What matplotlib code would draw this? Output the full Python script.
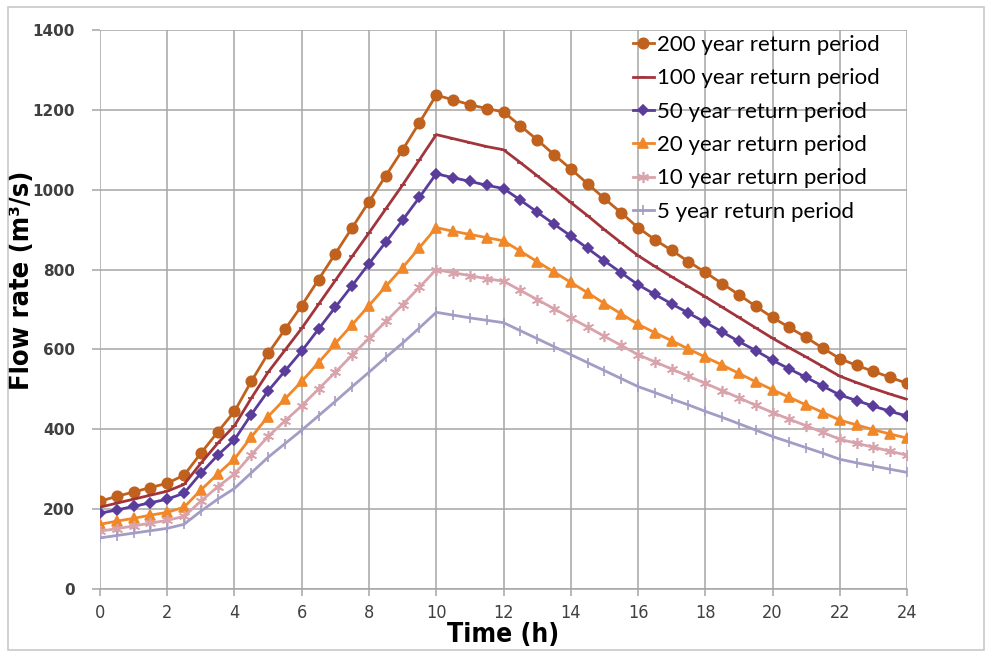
import matplotlib
matplotlib.use("Agg")
import matplotlib.pyplot as plt
from matplotlib.patches import Rectangle

# time axis, half-hour steps
hours = [i * 0.5 for i in range(49)]

q200 = [220, 232, 243, 254, 265, 285, 340, 393, 445, 520, 590, 650, 710, 775, 840, 905, 970,
        1035, 1100, 1168, 1237, 1225, 1213, 1203, 1195, 1160, 1125, 1088, 1052, 1015, 978, 942,
        905, 875, 848, 820, 793, 765, 737, 708, 680, 655, 630, 603, 577, 560, 545, 530, 515]
q100 = [205, 215, 225, 235, 245, 262, 315, 365, 409, 478, 543, 598, 653, 713, 773, 833, 892,
        952, 1012, 1075, 1138, 1128, 1118, 1108, 1100, 1068, 1035, 1002, 968, 935, 900, 867,
        835, 808, 782, 757, 732, 706, 680, 654, 628, 604, 581, 557, 533, 517, 502, 488, 475]
q50 = [190, 198, 207, 216, 225, 240, 290, 335, 374, 437, 496, 546, 596, 651, 706, 760, 815,
       869, 924, 981, 1040, 1030, 1021, 1011, 1003, 974, 944, 914, 884, 853, 822, 792,
       762, 738, 714, 691, 668, 644, 620, 597, 573, 551, 530, 508, 486, 472, 458, 445, 433]
q20 = [162, 170, 177, 185, 192, 205, 248, 288, 326, 381, 432, 476, 520, 567, 615, 662, 710,
       758, 805, 855, 905, 896, 888, 880, 872, 846, 820, 794, 768, 742, 715, 689,
       663, 642, 622, 601, 581, 561, 540, 519, 499, 480, 461, 442, 423, 411, 399, 388, 378]
q10 = [145, 151, 158, 165, 172, 182, 220, 256, 288, 336, 382, 421, 459, 501, 543, 586, 628,
       670, 712, 756, 800, 792, 785, 777, 771, 748, 725, 702, 679, 656, 633, 610,
       587, 569, 551, 533, 515, 497, 479, 460, 442, 425, 409, 392, 375, 365, 355, 345, 335]
q5 = [128, 134, 140, 146, 152, 162, 195, 225, 252, 291, 330, 364, 398, 434, 470, 507, 543,
      580, 616, 654, 693, 686, 679, 673, 667, 647, 627, 607, 587, 567, 547, 527,
      507, 492, 476, 461, 445, 430, 414, 398, 382, 368, 354, 340, 325, 316, 308, 300, 292]

series = [
    ("200 year return period", q200, "#C0621E", "o", 7.5),
    ("100 year return period", q100, "#A2353C", "_", 5),
    ("50 year return period", q50, "#5A3D9A", "D", 5),
    ("20 year return period", q20, "#F0882A", "^", 7.5),
    ("10 year return period", q10, "#D9A3AC", (6, 2, 0), 8),
    ("5 year return period", q5, "#A39CC4", "|", 7),
]

narrow = dict(family="DejaVu Sans", stretch="condensed")

fig = plt.figure(figsize=(9.87, 6.56), dpi=100)
ax = fig.add_axes([0.1013, 0.1021, 0.8177, 0.8522])

for label, vals, col, mk, ms in series:
    ax.plot(hours, vals, color=col, lw=2, marker=mk, markersize=ms,
            markerfacecolor=col, markeredgecolor=col, markeredgewidth=1.2,
            label=label, zorder=3)

ax.set_xlim(0, 24)
ax.set_ylim(0, 1400)
ax.set_xticks(range(0, 25, 2))
ax.set_yticks(range(0, 1401, 200))
ax.grid(True, color="#A6A6A6", lw=1.1)
ax.set_axisbelow(True)

for s in ["top", "right", "left"]:
    ax.spines[s].set_visible(False)
ax.spines["bottom"].set_color("#A6A6A6")
ax.spines["bottom"].set_linewidth(1.1)

ax.tick_params(axis="y", length=6, width=1.1, color="#A6A6A6", pad=12, labelsize=11,
               labelcolor="#404040")
ax.tick_params(axis="x", length=5, width=1.1, color="#A6A6A6", pad=6, labelsize=13,
               labelcolor="#404040")
for t in ax.get_yticklabels():
    t.set_fontweight("bold")
for t in ax.get_xticklabels():
    t.set_fontproperties(dict(narrow, size=13))

ax.set_xlabel("Time (h)", fontsize=19, fontweight="bold", labelpad=0, **narrow)
ax.set_ylabel("Flow rate (m³/s)", fontsize=19.5, fontweight="bold", **narrow)
ax.yaxis.set_label_coords(-0.08, 0.553)

leg = ax.legend(loc="upper left", bbox_to_anchor=(0.649, 1.007), frameon=False,
                handlelength=0.95, handletextpad=0.15, labelspacing=0.6,
                borderaxespad=0, prop={"family": "Lato", "size": 16})

# thin light frame round the whole picture
fig.patches.append(Rectangle((0.008, 0.009), 0.989, 0.98, transform=fig.transFigure,
                             fill=False, edgecolor="#C8C8C8", lw=1.2))

fig.savefig("out.png", dpi=100)
